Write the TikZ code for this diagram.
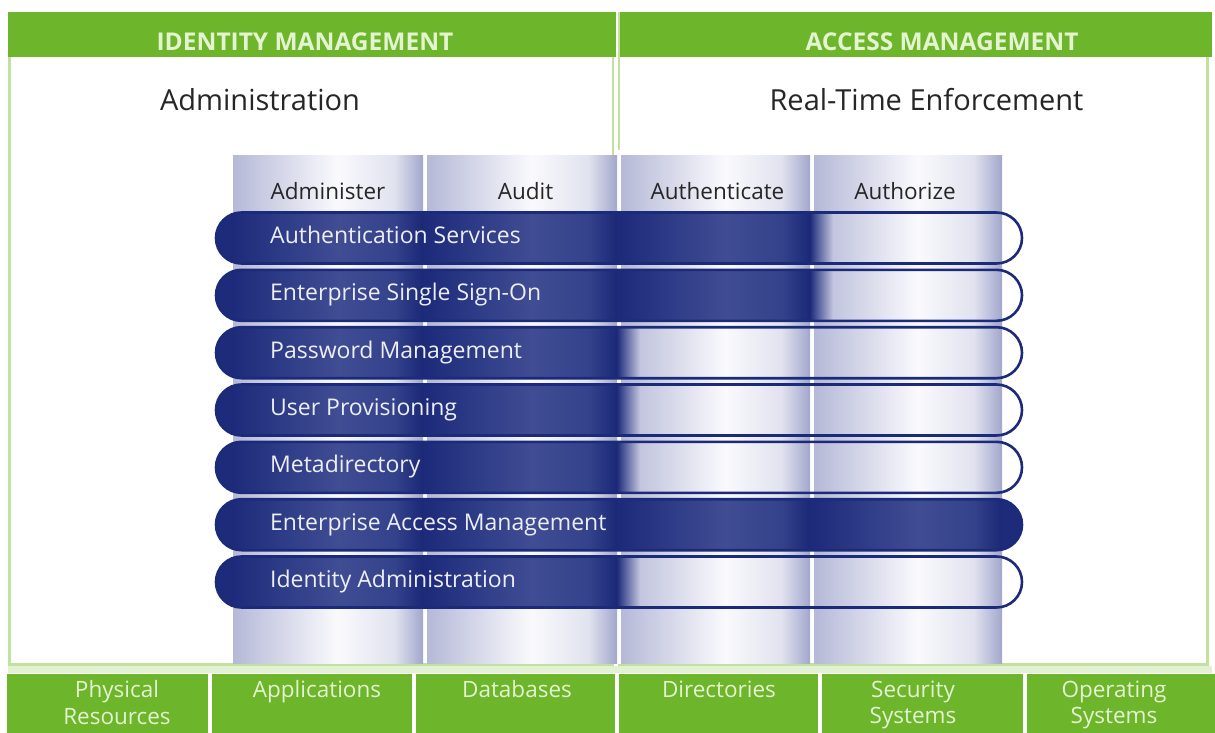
\documentclass[tikz,border=0pt]{standalone}
\usepackage{fontspec}
\setmainfont{Open Sans}
\usetikzlibrary{calc}

\definecolor{grn}{HTML}{6DB52A}
\definecolor{grnline}{HTML}{C2E09E}
\definecolor{grntext}{HTML}{E4F3D0}
\definecolor{navy}{HTML}{1C2A7A}
% column background: left, middle, shoulder, right
\definecolor{bga}{HTML}{B5B9D7}
\definecolor{bgb}{HTML}{FAFAFD}
\definecolor{bgc}{HTML}{E0E2EE}
\definecolor{bgd}{HTML}{A2A7CC}
% dark bar texture: left, middle, shoulder, right
\definecolor{dka}{HTML}{1E2B7B}
\definecolor{dkb}{HTML}{404D93}
\definecolor{dkc}{HTML}{34428C}
\definecolor{dkd}{HTML}{1B2877}

% a vertical strip shaded left to right through four colours <prefix>a..d
\newcommand{\colstrip}[5]{%
  \pgfmathsetmacro\csxa{#1+0.55*(#2-#1)}%
  \pgfmathsetmacro\csxb{#1+0.85*(#2-#1)}%
  \shade[left color=#5a, right color=#5b] (#1,#3) rectangle (\csxa+0.5,#4);
  \shade[left color=#5b, right color=#5c] (\csxa,#3) rectangle (\csxb+0.5,#4);
  \shade[left color=#5c, right color=#5d] (\csxb,#3) rectangle (#2,#4);
}

% a rounded product bar: name, centre y, end of the dark part, label
\newcommand{\navybar}[4]{%
  \pgfmathsetmacro\nbt{#2-25.5}%
  \pgfmathsetmacro\nbb{#2+25.5}%
  \begin{scope}
    \clip[rounded corners=25.5pt] (216,\nbt) rectangle (1022,\nbb);
    \fill[dka] (210,\nbt) rectangle (#3,\nbb);
    \ifdim #3pt>300pt \colstrip{233}{423}{\nbt}{\nbb}{dk}\fi
    \ifdim #3pt>600pt \colstrip{427}{617}{\nbt}{\nbb}{dk}\fi
    \ifdim #3pt>800pt \colstrip{621}{810}{\nbt}{\nbb}{dk}\fi
    \ifdim #3pt>1000pt \colstrip{814}{1002}{\nbt}{\nbb}{dk}\fi
    \ifdim #3pt<1000pt
      \shade[left color=dka, right color=bga!72!white] (#3,\nbt) rectangle ($(#3,\nbb)+(24,0)$);
    \fi
  \end{scope}
  \draw[navy, line width=2.6pt, rounded corners=25.5pt] (216,\nbt) rectangle (1022,\nbb);
  \node[barlabel] (#1) at (270,#2) {#4};
}

\tikzset{
  hdr/.style={font=\bfseries\fontsize{24.5}{28}\selectfont, text=grntext, inner sep=0pt},
  subtitle/.style={font=\fontsize{29}{34}\selectfont, text=black!85, inner sep=0pt},
  colhead/.style={font=\fontsize{22.5}{26}\selectfont, text=black!85, inner sep=0pt,
    text height=16pt, text depth=5pt},
  barlabel/.style={font=\fontsize{23}{26}\selectfont, text=white!92!navy, anchor=west,
    inner sep=0pt, text height=16pt, text depth=5pt},
  btm/.style={font=\fontsize{22.5}{26.5}\selectfont, text=grntext, align=center,
    anchor=north, inner sep=0pt},
  panel/.style={draw=grnline, line width=2.5pt},
}

\begin{document}
\begin{tikzpicture}[x=1pt, y=-1pt]
  \useasboundingbox (0,0) rectangle (1215,733);
  \clip (0,0) rectangle (1215,733);
  \fill[white] (0,0) rectangle (1215,733);

  % the two framed panels with their green title bands
  \draw[panel] (9.5,13) rectangle (613,664.5);
  \draw[panel] (619,13) rectangle (1207.5,664.5);
  \fill[grn] (8,12) rectangle (616,57);
  \fill[grn] (620,12) rectangle (1212,57);
  \node[hdr] (idm) at (305,42) {IDENTITY MANAGEMENT};
  \node[hdr] (acm) at (942,42) {ACCESS MANAGEMENT};
  \node[subtitle] (admin) at (260,100) {Administration};
  \node[subtitle] (rte) at (926.5,100) {Real-Time Enforcement};

  % the four function columns
  \fill[white] (617,150) rectangle (621,664);
  \colstrip{233}{423}{155}{663}{bg}
  \colstrip{427}{617}{155}{663}{bg}
  \colstrip{621}{810}{155}{663}{bg}
  \colstrip{814}{1002}{155}{663}{bg}
  \node[colhead] (hadm) at (328,194) {Administer};
  \node[colhead] (haud) at (525.5,194) {Audit};
  \node[colhead] (hatn) at (717.5,194) {Authenticate};
  \node[colhead] (hatz) at (905,194) {Authorize};

  % product bars
  \navybar{b1}{238}{810}{Authentication Services}
  \navybar{b2}{295.3}{810}{Enterprise Single Sign-On}
  \navybar{b3}{352.7}{617}{Password Management}
  \navybar{b4}{410}{617}{User Provisioning}
  \navybar{b5}{467.3}{617}{Metadirectory}
  \navybar{b6}{524.7}{1022}{Enterprise Access Management}
  \navybar{b7}{582}{617}{Identity Administration}

  % resource row along the bottom
  \fill[grnline!45] (8,666) rectangle (1212,673);
  \fill[grn] (7,674) rectangle (208,740);
  \fill[grn] (212,674) rectangle (412,740);
  \fill[grn] (416,674) rectangle (615,740);
  \fill[grn] (619,674) rectangle (818,740);
  \fill[grn] (822,674) rectangle (1023,740);
  \fill[grn] (1027,674) rectangle (1215,740);
  \node[btm] (phys) at (117,680.5) {Physical\\Resources};
  \node[btm] (apps) at (317,680.5) {Applications};
  \node[btm] (dbs) at (517,680.5) {Databases};
  \node[btm] (dirs) at (719,680.5) {Directories};
  \node[btm] (secs) at (913,680.5) {Security\\Systems};
  \node[btm] (opsys) at (1114,680.5) {Operating\\Systems};
\end{tikzpicture}
\end{document}
